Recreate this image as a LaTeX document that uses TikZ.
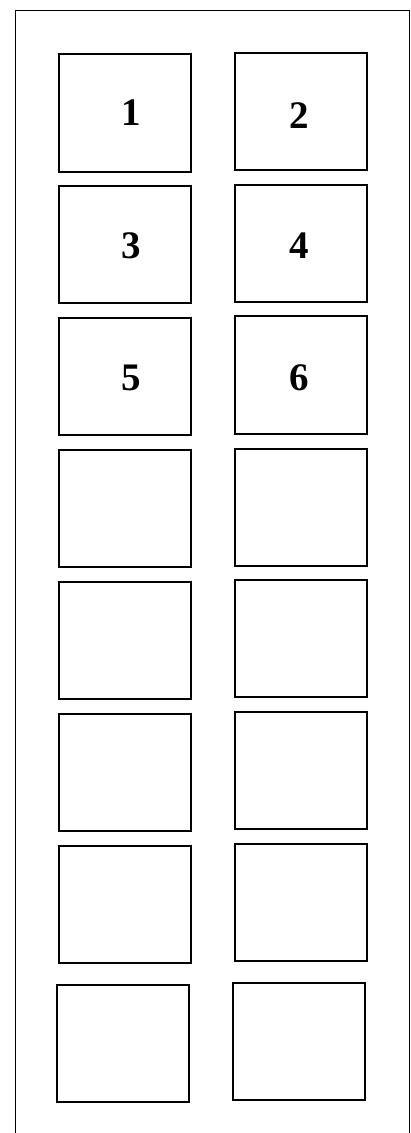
\documentclass[tikz,border=0pt]{standalone}
\usepackage{fontspec}
\setmainfont{Liberation Serif}
\begin{document}
\begin{tikzpicture}[x=1pt,y=-1pt,
  cell/.style={draw=black,line width=1.6pt,fill=white},
  frame/.style={draw=black,line width=1.2pt},
  num/.style={font=\fontsize{39}{39}\selectfont\bfseries,inner sep=0pt}]
\useasboundingbox (0,0) rectangle (411,1133);
\begin{scope}
\clip (0,0) rectangle (411,1133);
\draw[frame] (15.5,10.5) rectangle (409.8,1140);
\end{scope}
% left column
\draw[cell] (59,54) rectangle (191,172);
\draw[cell] (59,186) rectangle (191,303);
\draw[cell] (59,318) rectangle (191,435);
\draw[cell] (59,450) rectangle (191,567);
\draw[cell] (59,582) rectangle (191,699);
\draw[cell] (59,714) rectangle (191,831);
\draw[cell] (59,846) rectangle (191,963);
\draw[cell] (57,985) rectangle (189,1102);
% right column
\draw[cell] (235,53) rectangle (367,170);
\draw[cell] (235,185) rectangle (367,302);
\draw[cell] (235,316) rectangle (367,434);
\draw[cell] (235,449) rectangle (367,566);
\draw[cell] (235,580) rectangle (367,697);
\draw[cell] (235,712) rectangle (367,829);
\draw[cell] (235,844) rectangle (367,961);
\draw[cell] (233,983) rectangle (365,1100);
% labels
\node[num] (n1) at (131,113) {1};
\node[num] (n2) at (299,116) {2};
\node[num] (n3) at (131,246) {3};
\node[num] (n4) at (299,246) {4};
\node[num] (n5) at (131,378) {5};
\node[num] (n6) at (299,378) {6};
\end{tikzpicture}
\end{document}
